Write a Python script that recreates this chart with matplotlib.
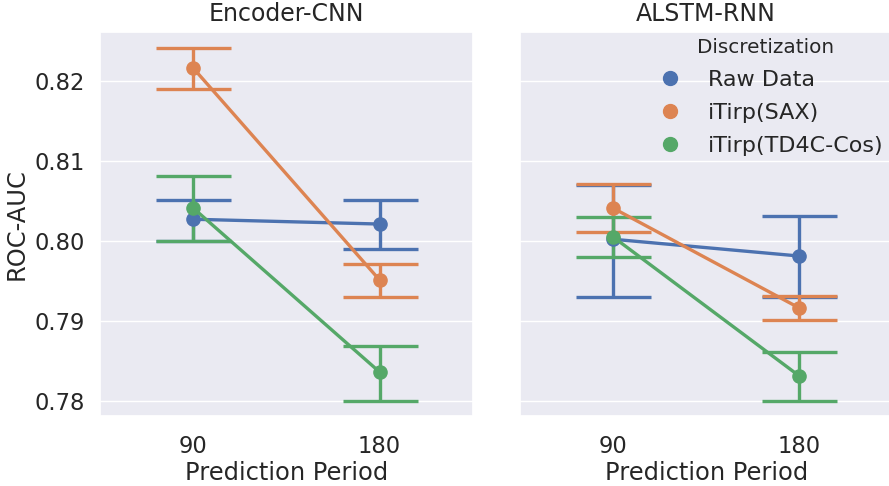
import numpy as np
import matplotlib.pyplot as plt
import seaborn as sns

sns.set_theme(style='darkgrid')
plt.rcParams['font.family'] = ['DejaVu Sans']

periods = ['90', '180']
models = ['Encoder-CNN', 'ALSTM-RNN']
methods = ['Raw Data', 'iTirp(SAX)', 'iTirp(TD4C-Cos)']
colors = ['#4C72B0', '#DD8452', '#55A868']

# mean ROC-AUC per model -> method -> period
means = {
    'Encoder-CNN': [[0.8027, 0.8021], [0.8216, 0.7951], [0.8041, 0.7836]],
    'ALSTM-RNN':   [[0.8002, 0.7981], [0.8041, 0.7916], [0.8005, 0.7831]],
}
ci_low = {
    'Encoder-CNN': [[0.8000, 0.7990], [0.8190, 0.7930], [0.8000, 0.7800]],
    'ALSTM-RNN':   [[0.7930, 0.7930], [0.8011, 0.7901], [0.7980, 0.7800]],
}
ci_high = {
    'Encoder-CNN': [[0.8051, 0.8051], [0.8241, 0.7971], [0.8081, 0.7869]],
    'ALSTM-RNN':   [[0.8070, 0.8031], [0.8071, 0.7931], [0.8030, 0.7861]],
}

fig, axes = plt.subplots(1, 2, figsize=(8.89, 4.86), dpi=100, sharey=True)
fig.subplots_adjust(left=0.1125, right=1.004, top=0.934, bottom=0.144, wspace=0.126)

for ax, model in zip(axes, models):
    for i, method in enumerate(methods):
        m = np.array(means[model][i])
        lo = m - np.array(ci_low[model][i])
        hi = np.array(ci_high[model][i]) - m
        ax.errorbar(periods, m, yerr=[lo, hi], color=colors[i], fmt='-o',
                    linewidth=2.4, elinewidth=2.4, markersize=9.5,
                    capsize=27, capthick=2.4, label=method)
    ax.set_xlim(-0.5, 1.5)
    ax.set_ylim(0.7781, 0.8261)
    ax.set_yticks([0.78, 0.79, 0.80, 0.81, 0.82])
    ax.xaxis.grid(False)
    ax.set_title(model, fontsize=17, pad=8)
    ax.set_xlabel('Prediction Period', fontsize=17.4, labelpad=2)
    ax.tick_params(labelsize=16.3)
    ax.tick_params(axis='x', pad=8)
    ax.tick_params(axis='y', pad=5)

axes[0].set_ylabel('ROC-AUC', fontsize=17.4)
axes[1].set_ylabel('')

handles = [plt.Line2D([], [], marker='o', linestyle='', color=c, markersize=10)
           for c in colors]
axes[1].legend(handles, methods, title='Discretization', loc='upper right',
               frameon=False, fontsize=16, title_fontsize=14.4,
               bbox_to_anchor=(1.03, 1.037), handletextpad=0.7,
               labelspacing=0.58)

fig.savefig('out.png')
